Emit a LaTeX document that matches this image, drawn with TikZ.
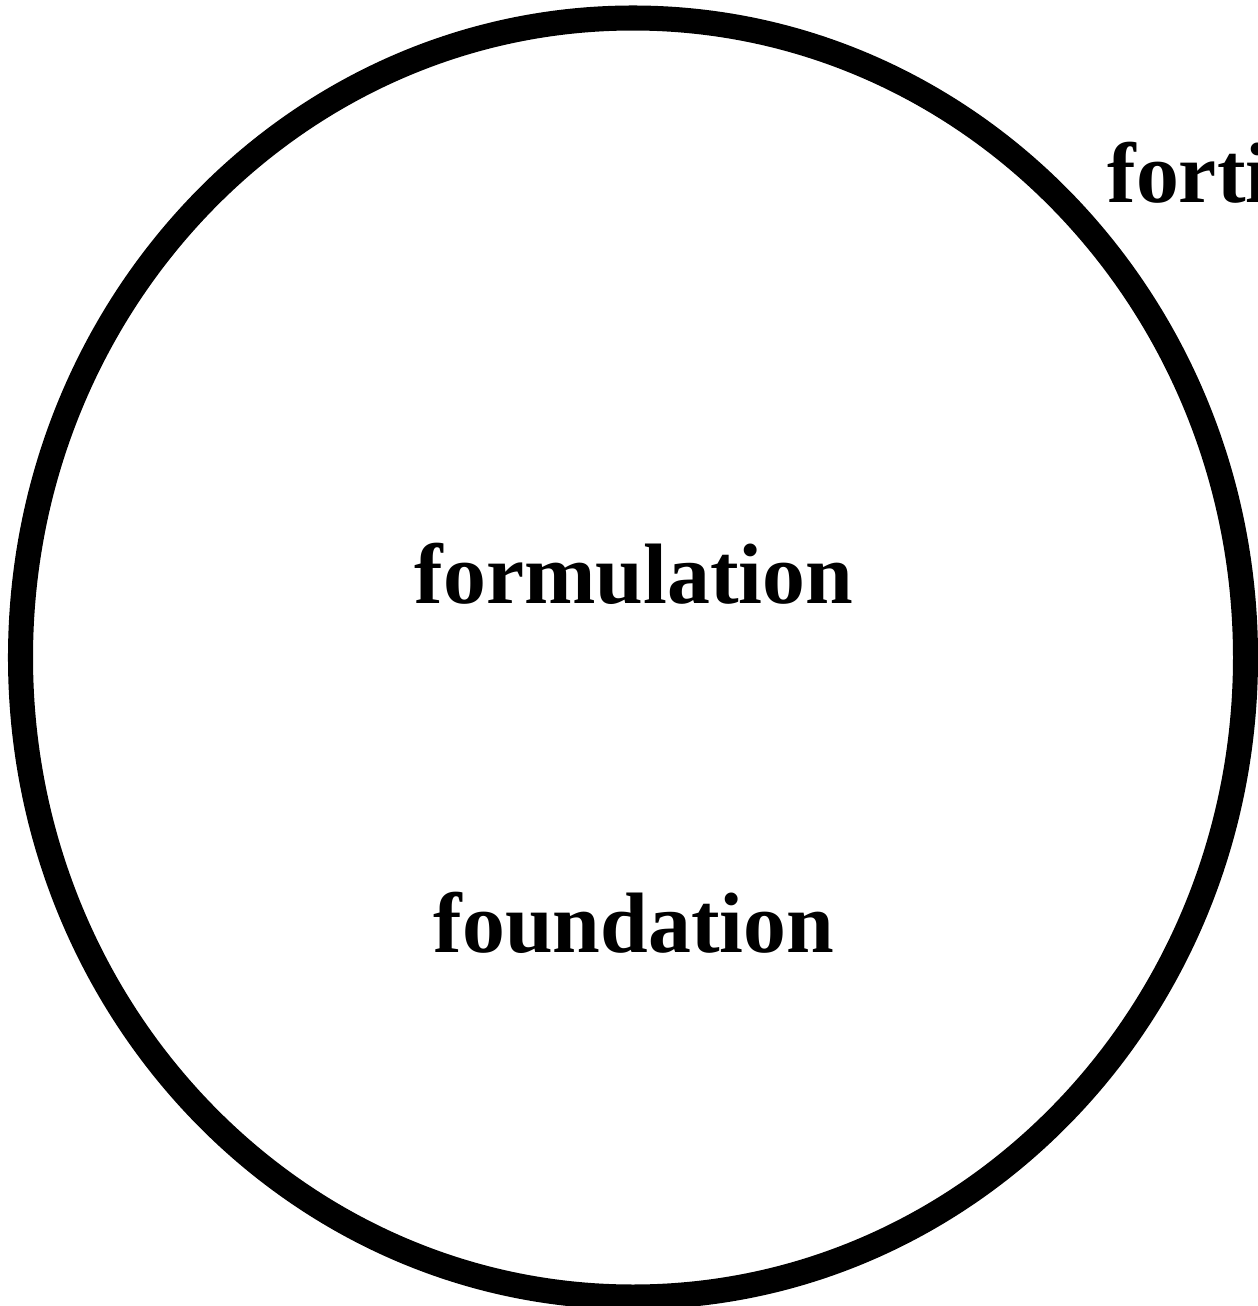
\documentclass[tikz,border=0pt]{standalone}
\usepackage{fontspec}
\setmainfont{Liberation Serif}
\usetikzlibrary{positioning, shapes.geometric}
\tikzset{
  % Big outline
  ring/.style={
    draw, ellipse, line width=17.8pt,
    inner sep=0pt, minimum width=30.625cm, minimum height=31.975cm
  },
  % Words
  word/.style={
    font=\fontsize{61}{70}\selectfont\bfseries,
    inner sep=0pt
  },
}

\begin{document}
\begin{tikzpicture}

  \useasboundingbox (0,0) rectangle (31.425,-32.65);

  %% ── Outline ──
  \node[ring] (ring) at (15.825,-16.4375) {};

  %% ── Words ──
  \node[word, anchor=base] (formulation) at (15.85,-15.075) {formulation};
  \node[word, anchor=base] (foundation) at ([yshift=-8.725cm]formulation.base) {foundation};
  \node[word, anchor=base west] (forti) at (27.68,-5.05) {forti};

\end{tikzpicture}
\end{document}
